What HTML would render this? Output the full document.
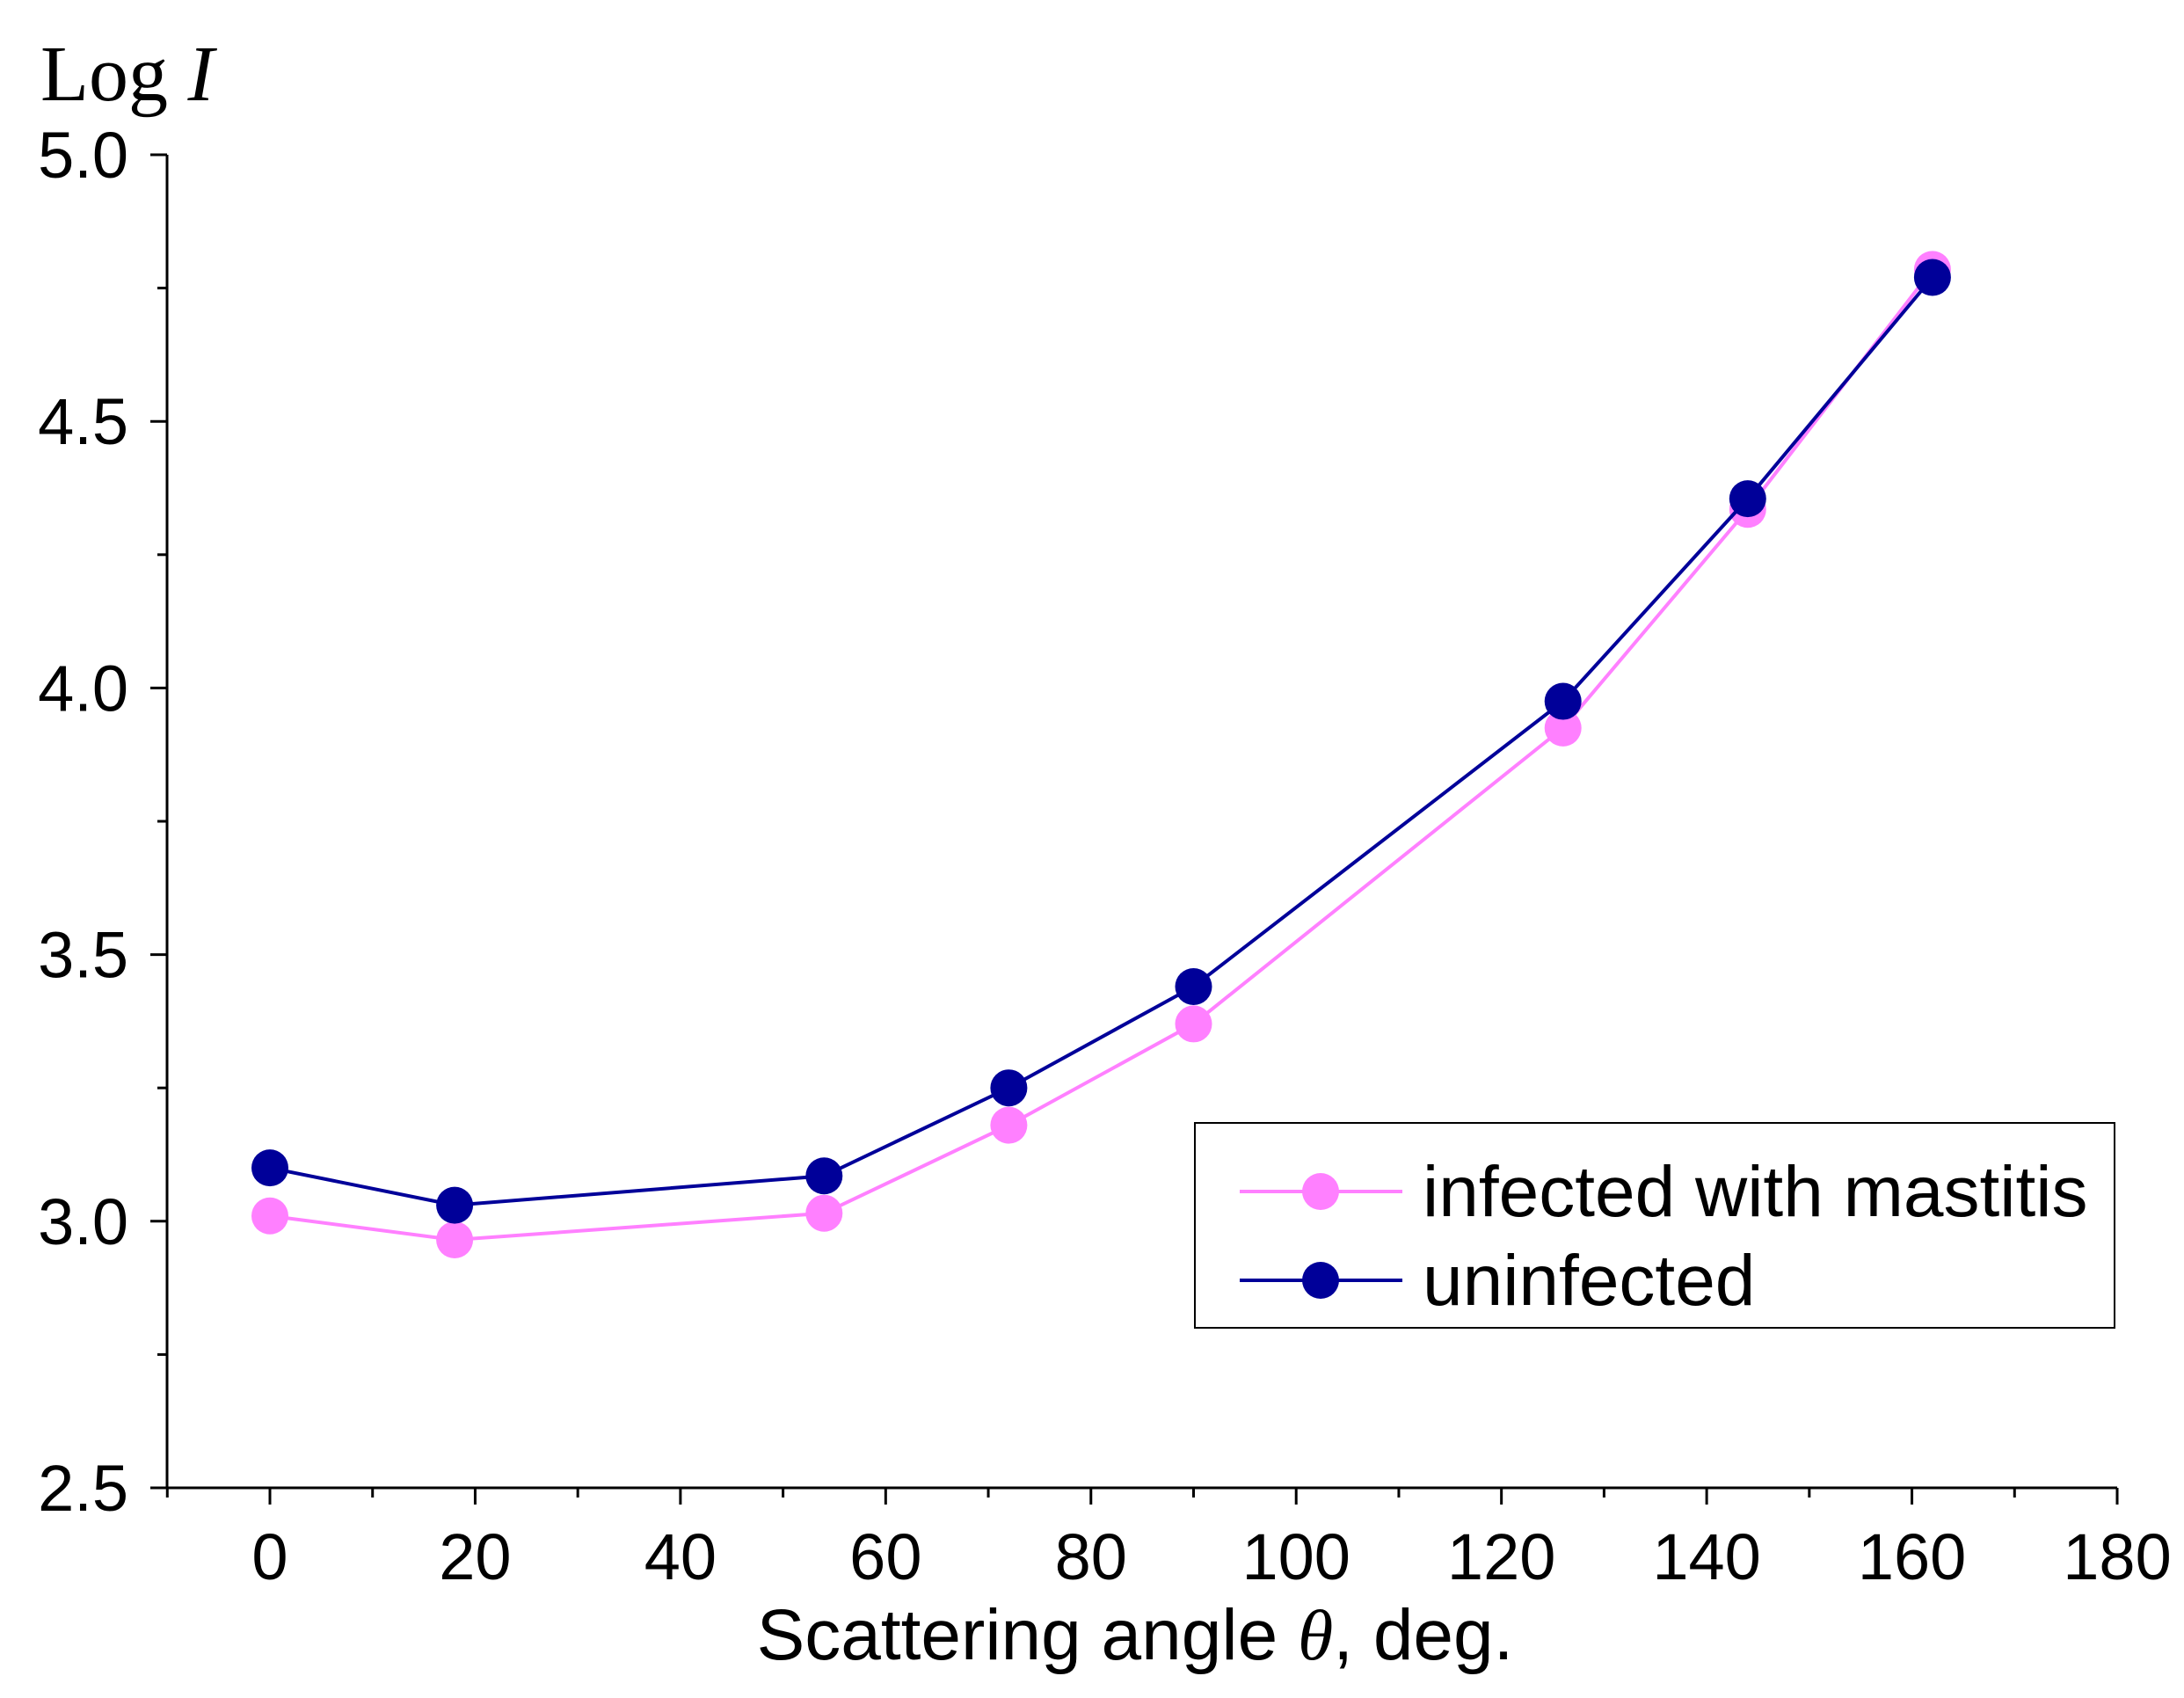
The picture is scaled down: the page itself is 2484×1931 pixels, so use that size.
<!DOCTYPE html>
<html><head><meta charset="utf-8"><style>
html,body{margin:0;padding:0;background:#fff;}
svg{display:block;font-family:"Liberation Sans",Arial,sans-serif;}
</style></head><body>
<svg id="chart" width="2484" height="1931" viewBox="0 0 2484 1931" xmlns="http://www.w3.org/2000/svg">
<rect width="2484" height="1931" fill="#fff"/>
<g id="axes"></g>
<g id="series"></g>
<text x="46" y="114" font-family="Liberation Serif, serif" font-size="90">Log <tspan font-style="italic">I</tspan></text>
<text x="1291" y="1887" font-size="82" text-anchor="middle">Scattering angle <tspan font-family="Liberation Serif, serif" font-style="italic">θ</tspan>, deg.</text>
<g>
<rect x="1359" y="1277" width="1046" height="233" fill="#fff" stroke="#000" stroke-width="2"/>
<line x1="1410" y1="1355" x2="1595" y2="1355" stroke="#ff80ff" stroke-width="4"/>
<circle cx="1502" cy="1355" r="21" fill="#ff80ff"/>
<text x="1618" y="1383" font-size="82">infected with mastitis</text>
<line x1="1410" y1="1456" x2="1595" y2="1456" stroke="#000099" stroke-width="4"/>
<circle cx="1502" cy="1456" r="21" fill="#000099"/>
<text x="1618" y="1484" font-size="82">uninfected</text>
</g>
</svg>
<script>
const angles=[0,18,54,72,90,126,144,162];
const infected=[3.01,2.965,3.015,3.18,3.37,3.925,4.335,4.785];
const uninfected=[3.10,3.03,3.085,3.25,3.44,3.975,4.355,4.77];
const xTicks=[0,20,40,60,80,100,120,140,160,180];
const yTicks=["2.5","3.0","3.5","4.0","4.5","5.0"];
const NS="http://www.w3.org/2000/svg";
const X=v=>307+(v-0)*(2408-307)/180;
const Y=v=>1692-(v-2.5)*(1692-176)/2.5;
function mk(t,a,p){const e=document.createElementNS(NS,t);for(const k in a)e.setAttribute(k,a[k]);p.appendChild(e);return e;}
const ax=document.getElementById('axes');
let l=mk('line',{x1:190,y1:176,x2:190,y2:1692,stroke:'#000','stroke-width':3},ax);


l=mk('line',{x1:190,y1:1692,x2:2408,y2:1692,stroke:'#000','stroke-width':3},ax);


for(let v=-10;v<=180;v+=10){const major=v%20===0&&v>=0;
 mk('line',{x1:X(v),y1:1692,x2:X(v),y2:1692+(major?19:11),stroke:'#000','stroke-width':3},ax);}
xTicks.forEach(v=>{const t=mk('text',{x:X(v),y:1796,'font-size':74,'text-anchor':'middle'},ax);t.textContent=v;
 
 });
for(let v=2.5;v<=5.001;v+=0.25){const major=Math.abs(v*2-Math.round(v*2))<1e-6;
 mk('line',{x1:190,y1:Y(v),x2:190-(major?19:11),y2:Y(v),stroke:'#000','stroke-width':3},ax);}
yTicks.forEach(s=>{const t=mk('text',{x:146,y:Y(+s)+26,'font-size':74,'text-anchor':'end'},ax);t.textContent=s;
 
 });
const sg=document.getElementById('series');
function series(vals,col,name){
 const g=mk('g',{},sg);
 
 
 mk('polyline',{points:vals.map((v,i)=>X(angles[i])+','+Y(v)).join(' '),fill:'none',stroke:col,'stroke-width':4},g);
 vals.forEach((v,i)=>{const c=mk('circle',{cx:X(angles[i]),cy:Y(v),r:21,fill:col},g);
  
  });
}
series(infected,'#ff80ff','infected-series');
series(uninfected,'#000099','uninfected-series');
</script>
</body></html>
